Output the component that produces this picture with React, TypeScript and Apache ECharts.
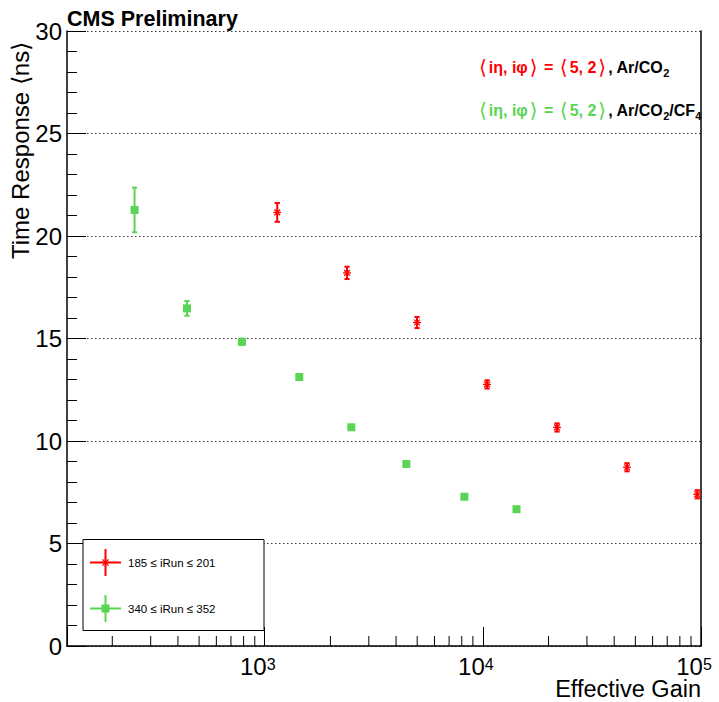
import React, { useEffect, useRef } from 'react';
import * as echarts from 'echarts';

// ---- data ----
const redGain = [1141, 2383, 4990, 10450, 21880, 45800, 96100];
const redTime = [21.15, 18.2, 15.78, 12.76, 10.66, 8.72, 7.4];
const redErr = [0.46, 0.3, 0.27, 0.2, 0.2, 0.2, 0.2];

const greenGain = [253, 440, 786, 1440, 2494, 4457, 8223, 14260];
const greenTime = [21.27, 16.47, 14.84, 13.12, 10.67, 8.88, 7.28, 6.67];
const greenErr = [1.09, 0.36, 0.15, 0.1, 0.1, 0.08, 0.08, 0.08];

const xMinorTicks = [
  200, 300, 400, 500, 600, 700, 800, 900,
  2000, 3000, 4000, 5000, 6000, 7000, 8000, 9000,
  20000, 30000, 40000, 50000, 60000, 70000, 80000, 90000,
];

const legendLabels = ['185 \u2264 iRun \u2264 201', '340 \u2264 iRun \u2264 352'];
const titleText = 'CMS Preliminary';
const xName = 'Effective Gain';
const yName = 'Time Response \u27E8ns\u27E9';

const RED = '#ff0000';
const GREEN = '#59d454';
const FONT = '"Liberation Sans", Arial, Helvetica, sans-serif';
const FONT_SYM = '"DejaVu Sans", "Liberation Sans", sans-serif';

function makeRender(kind: 'star' | 'square', color: string) {
  return (params: any, api: any) => {
    const x = api.value(0);
    const y = api.value(1);
    const e = api.value(2);
    const p = api.coord([x, y]);
    const top = api.coord([x, y + e]);
    const bot = api.coord([x, y - e]);
    const capW = 2.6;
    const children: any[] = [];
    const ls = { stroke: color, lineWidth: 2 };
    children.push({ type: 'line', shape: { x1: p[0], y1: top[1], x2: p[0], y2: bot[1] }, style: ls });
    children.push({ type: 'line', shape: { x1: p[0] - capW, y1: top[1], x2: p[0] + capW, y2: top[1] }, style: ls });
    children.push({ type: 'line', shape: { x1: p[0] - capW, y1: bot[1], x2: p[0] + capW, y2: bot[1] }, style: ls });
    if (kind === 'square') {
      children.push({ type: 'rect', shape: { x: p[0] - 4, y: p[1] - 4, width: 8, height: 8 }, style: { fill: color } });
    } else {
      const h = 4;
      const d = 2.9;
      const ss = { stroke: color, lineWidth: 1.3 };
      children.push({ type: 'line', shape: { x1: p[0] - h, y1: p[1], x2: p[0] + h, y2: p[1] }, style: ss });
      children.push({ type: 'line', shape: { x1: p[0], y1: p[1] - h, x2: p[0], y2: p[1] + h }, style: ss });
      children.push({ type: 'line', shape: { x1: p[0] - d, y1: p[1] - d, x2: p[0] + d, y2: p[1] + d }, style: ss });
      children.push({ type: 'line', shape: { x1: p[0] - d, y1: p[1] + d, x2: p[0] + d, y2: p[1] - d }, style: ss });
    }
    return { type: 'group', children };
  };
}

function starAt(cx: number, cy: number, color: string) {
  const h = 4.3;
  const d = 3.1;
  const ss = { stroke: color, lineWidth: 1.3 };
  return [
    { type: 'line', z: 101, shape: { x1: cx - h, y1: cy, x2: cx + h, y2: cy }, style: ss },
    { type: 'line', z: 101, shape: { x1: cx, y1: cy - h, x2: cx, y2: cy + h }, style: ss },
    { type: 'line', z: 101, shape: { x1: cx - d, y1: cy - d, x2: cx + d, y2: cy + d }, style: ss },
    { type: 'line', z: 101, shape: { x1: cx - d, y1: cy + d, x2: cx + d, y2: cy - d }, style: ss },
  ];
}

const mid = { textAlign: 'left', textVerticalAlign: 'middle', align: 'left', verticalAlign: 'middle' };

export default function App() {
  const ref = useRef<HTMLDivElement>(null);

  useEffect(() => {
    if (!ref.current) return;
    const chart = echarts.init(ref.current, null, { renderer: 'svg' });

    const redData = redGain.map((g, i) => [g, redTime[i], redErr[i]]);
    const greenData = greenGain.map((g, i) => [g, greenTime[i], greenErr[i]]);
    const minorData = xMinorTicks.map((v) => [v, 0]);

    const bw = { fontSize: 16, fontWeight: 'bold', fontFamily: FONT };
    const bracket = { fontSize: 20, fontWeight: 'normal', fontFamily: FONT_SYM, padding: [0, 2, 0, 2] };
    const boldRed = { fill: RED, ...bw };
    const brRed = { fill: RED, ...bracket };
    const boldGreen = { fill: GREEN, ...bw };
    const brGreen = { fill: GREEN, ...bracket };
    const blk = { fill: '#000', ...bw };
    const sub = { fill: '#000', fontSize: 11, fontWeight: 'bold', fontFamily: FONT, verticalAlign: 'bottom' };

    const option: any = {
      animation: false,
      backgroundColor: '#fff',
      grid: { left: 67, right: 18, top: 31, bottom: 56, containLabel: false },
      xAxis: {
        type: 'log',
        logBase: 10,
        min: 124,
        max: 100000,
        axisLine: { show: true, lineStyle: { color: '#000', width: 1.5 } },
        axisTick: { show: true, inside: true, length: 19, lineStyle: { color: '#000', width: 1 } },
        splitLine: { show: false },
        axisLabel: {
          margin: 10,
          color: '#000',
          padding: [0, 14, 0, 0],
          formatter: (v: number) => {
            const l = Math.log10(v);
            const r = Math.round(l);
            return Math.abs(l - r) < 1e-6 && r >= 3 ? `{b|10}{s|${r}}` : '';
          },
          rich: {
            b: { fontSize: 24, fontFamily: FONT, color: '#000', lineHeight: 20 },
            s: { fontSize: 16, fontFamily: FONT, color: '#000', verticalAlign: 'top', lineHeight: 20 },
          },
        },
      },
      yAxis: [
        {
          type: 'value',
          min: 0,
          max: 30,
          interval: 5,
          axisLine: { show: true, lineStyle: { color: '#000', width: 1.5 } },
          axisTick: { show: true, inside: true, length: 19, lineStyle: { color: '#000', width: 1 } },
          minorTick: { show: true, splitNumber: 5, length: 10, lineStyle: { color: '#000', width: 1 } },
          splitLine: { show: true, lineStyle: { color: '#333', width: 1, type: [1.5, 2.5] } },
          axisLabel: { fontSize: 24, fontFamily: FONT, color: '#000', margin: 5 },
        },
        {
          type: 'value',
          position: 'right',
          min: 0,
          max: 30,
          interval: 5,
          axisLine: { show: true, onZero: false, lineStyle: { color: '#000', width: 1.5 } },
          axisTick: { show: false },
          axisLabel: { show: false },
          splitLine: { show: false },
        },
      ],
      series: [
        {
          type: 'custom',
          name: 'minorTicks',
          data: minorData,
          encode: { x: 0, y: 1 },
          clip: false,
          silent: true,
          z: 5,
          renderItem: (params: any, api: any) => {
            const p = api.coord([api.value(0), 0]);
            return {
              type: 'line',
              shape: { x1: p[0], y1: p[1], x2: p[0], y2: p[1] - 10 },
              style: { stroke: '#000', lineWidth: 1 },
            };
          },
        },
        {
          type: 'custom',
          name: legendLabels[1],
          data: greenData,
          dimensions: ['gain', 'time', 'err'],
          encode: { x: 0, y: 1 },
          clip: false,
          z: 10,
          renderItem: makeRender('square', GREEN),
        },
        {
          type: 'custom',
          name: legendLabels[0],
          data: redData,
          dimensions: ['gain', 'time', 'err'],
          encode: { x: 0, y: 1 },
          clip: false,
          z: 11,
          renderItem: makeRender('star', RED),
        },
      ],
      graphic: [
        {
          type: 'text',
          x: 67,
          y: 19,
          style: { text: titleText, fontSize: 21.5, fontWeight: 'bold', fontFamily: FONT, fill: '#000', ...mid },
        },
        {
          type: 'text',
          x: 701,
          y: 689,
          style: { text: xName, fontSize: 23.5, fontFamily: FONT, fill: '#000', textAlign: 'right', textVerticalAlign: 'middle', align: 'right', verticalAlign: 'middle' },
        },
        {
          type: 'text',
          x: 20,
          y: 259,
          rotation: Math.PI / 2,
          style: { text: yName, fontSize: 24, fontFamily: FONT, fill: '#000', ...mid },
        },
        {
          type: 'text',
          x: 477,
          y: 67,
          style: {
            text: '{rb|\u27E8}{r|i\u03B7, i\u03C6}{rb|\u27E9}{r| = }{rb|\u27E8}{r|5, 2}{rb|\u27E9}{k|, Ar/CO}{sub|2}',
            ...mid,
            lineHeight: 23,
            rich: { r: boldRed, rb: brRed, k: blk, sub },
          },
        },
        {
          type: 'text',
          x: 477,
          y: 110,
          style: {
            text: '{gb|\u27E8}{g|i\u03B7, i\u03C6}{gb|\u27E9}{g| = }{gb|\u27E8}{g|5, 2}{gb|\u27E9}{k|, Ar/CO}{sub|2}{k|/CF}{sub|4}',
            ...mid,
            lineHeight: 23,
            rich: { g: boldGreen, gb: brGreen, k: blk, sub },
          },
        },
        // legend box
        {
          type: 'rect',
          z: 100,
          shape: { x: 83, y: 539.5, width: 181, height: 91 },
          style: { fill: '#fff', stroke: '#000', lineWidth: 1 },
        },
        { type: 'line', z: 101, shape: { x1: 90, y1: 562.5, x2: 121, y2: 562.5 }, style: { stroke: RED, lineWidth: 2 } },
        { type: 'line', z: 101, shape: { x1: 105.5, y1: 549, x2: 105.5, y2: 576 }, style: { stroke: RED, lineWidth: 2 } },
        ...starAt(105.5, 562.5, RED),
        { type: 'text', z: 101, x: 128, y: 562.5, style: { text: legendLabels[0], fontSize: 11.5, fontFamily: FONT, fill: '#000', ...mid } },
        { type: 'line', z: 101, shape: { x1: 90, y1: 608.5, x2: 121, y2: 608.5 }, style: { stroke: GREEN, lineWidth: 2 } },
        { type: 'line', z: 101, shape: { x1: 105.5, y1: 595, x2: 105.5, y2: 622 }, style: { stroke: GREEN, lineWidth: 2 } },
        { type: 'rect', z: 101, shape: { x: 101.5, y: 604.5, width: 8, height: 8 }, style: { fill: GREEN } },
        { type: 'text', z: 101, x: 128, y: 608.5, style: { text: legendLabels[1], fontSize: 11.5, fontFamily: FONT, fill: '#000', ...mid } },
      ],
    };

    chart.setOption(option);
    return () => chart.dispose();
  }, []);

  return (
    <div
      ref={ref}
      style={{ position: 'fixed', left: 0, top: 0, width: 719, height: 702, background: '#fff' }}
    />
  );
}
